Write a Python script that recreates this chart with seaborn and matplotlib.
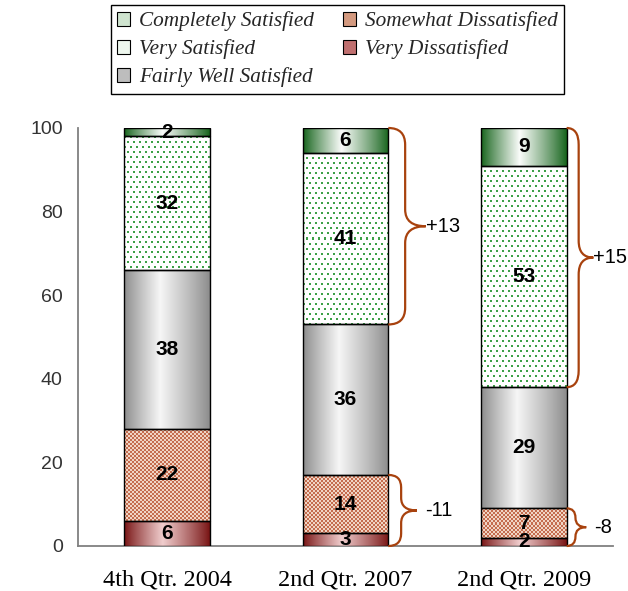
import numpy as np
import pandas as pd
import matplotlib
matplotlib.use("Agg")
import matplotlib.pyplot as plt
import seaborn as sns
from matplotlib.path import Path
from matplotlib.patches import PathPatch, Patch
from matplotlib.font_manager import FontProperties

# ---------------- data ----------------
periods = ["4th Qtr. 2004", "2nd Qtr. 2007", "2nd Qtr. 2009"]
very_dissatisfied = [6, 3, 2]
somewhat_dissatisfied = [22, 14, 7]
fairly_well_satisfied = [38, 36, 29]
very_satisfied = [32, 41, 53]
completely_satisfied = [2, 6, 9]
legend_labels = ["Completely Satisfied", "Very Satisfied", "Fairly Well Satisfied",
                 "Somewhat Dissatisfied", "Very Dissatisfied"]
y_ticks = [0, 20, 40, 60, 80, 100]

# ---------------- style ----------------
sns.set_style("white")
plt.rcParams["font.family"] = ["Liberation Sans", "DejaVu Sans"]

W, H = 628, 591
fig = plt.figure(figsize=(W / 100, H / 100), dpi=100)
ax_l, ax_r, ax_t, ax_b = 78, 613, 128, 546
ax = fig.add_axes([ax_l / W, 1 - ax_b / H, (ax_r - ax_l) / W, (ax_b - ax_t) / H])

# bottom-up stacking order
layers = [
    ("Very Dissatisfied", very_dissatisfied),
    ("Somewhat Dissatisfied", somewhat_dissatisfied),
    ("Fairly Well Satisfied", fairly_well_satisfied),
    ("Very Satisfied", very_satisfied),
    ("Completely Satisfied", completely_satisfied),
]

px_per_x = (ax_r - ax_l) / 3.0
px_per_y = (ax_b - ax_t) / 100.0


def grad_tex(wp, hp, edge, center, peak=0.45, gamma=0.9):
    x = np.linspace(0, 1, wp)
    t = np.where(x < peak, x / peak, (1 - x) / (1 - peak))
    t = np.clip(t, 0, 1) ** gamma
    edge = np.array(edge) / 255.0
    center = np.array(center) / 255.0
    col = edge[None, :] + (center - edge)[None, :] * t[:, None]
    return np.tile(col[None, :, :], (hp, 1, 1))


def dots_tex(wp, hp):
    img = np.ones((hp, wp, 3))
    yy, xx = np.mgrid[0:hp, 0:wp]
    row = yy // 5
    mask = ((yy % 5) < 2) & (((xx + (row % 2) * 3) % 6) < 2)
    img[mask] = np.array([60, 160, 70]) / 255.0
    return img


def checker_tex(wp, hp):
    yy, xx = np.mgrid[0:hp, 0:wp]
    m = ((yy // 2) + (xx // 2)) % 2 == 0
    img = np.empty((hp, wp, 3))
    img[m] = np.array([196, 108, 78]) / 255.0
    img[~m] = np.array([240, 212, 196]) / 255.0
    return img


def texture(name, wp, hp):
    if name == "Completely Satisfied":
        return grad_tex(wp, hp, (22, 100, 28), (250, 252, 250)), "bilinear"
    if name == "Very Satisfied":
        return dots_tex(wp, hp), "nearest"
    if name == "Fairly Well Satisfied":
        return grad_tex(wp, hp, (140, 140, 140), (246, 246, 246), peak=0.42), "bilinear"
    if name == "Somewhat Dissatisfied":
        return checker_tex(wp, hp), "nearest"
    return grad_tex(wp, hp, (120, 20, 20), (240, 205, 205)), "bilinear"


bottoms = np.zeros(len(periods))
tops = {}
for name, vals in layers:
    n_before = len(ax.patches)
    df = pd.DataFrame({"period": periods, "value": vals})
    sns.barplot(data=df, x="period", y="value", order=periods, width=0.48,
                color="white", edgecolor="black", linewidth=1.0, ax=ax, zorder=3)
    new = ax.patches[n_before:]
    for i, p in enumerate(new):
        p.set_y(bottoms[i])
        x0, w = p.get_x(), p.get_width()
        y0, h = bottoms[i], vals[i]
        wp = max(2, int(round(w * px_per_x)))
        hp = max(2, int(round(h * px_per_y)))
        img, interp = texture(name, wp, hp)
        im = ax.imshow(img, extent=[x0, x0 + w, y0, y0 + h], aspect="auto",
                       interpolation=interp, zorder=2, origin="upper")
        im.set_clip_path(p)
        p.set_facecolor("none")
        ax.text(i, y0 + h / 2, str(vals[i]), ha="center", va="center",
                fontsize=15, fontweight="bold", color="black", zorder=5)
    tops[name] = bottoms + np.array(vals)
    bottoms = bottoms + np.array(vals)

ax.set_xlim(-0.5, 2.5)
ax.set_ylim(0, 100)
ax.set_yticks(y_ticks)
ax.set_yticklabels([str(t) for t in y_ticks], fontsize=14, color="#333333")
ax.set_xticks(range(len(periods)))
ax.set_xticklabels(periods, fontsize=17.5, family="Liberation Serif", color="black")
ax.tick_params(axis="x", length=0, pad=17)
ax.tick_params(axis="y", length=0, pad=11)
ax.set_xlabel("")
ax.set_ylabel("")
for s in ["top", "right"]:
    ax.spines[s].set_visible(False)
for s in ["left", "bottom"]:
    ax.spines[s].set_color("#808080")
    ax.spines[s].set_linewidth(1.3)
ax.spines["bottom"].set_zorder(1)

# ---------------- braces ----------------
brace_color = "#A8420E"
bar_half = 0.24
upper_w = {1: 0.21, 2: 0.15}
lower_w = {1: 0.16, 2: 0.11}
label_gap_upper = 0
label_gap_lower = 6


def brace(x0, y0, y1, w, r):
    ym = (y0 + y1) / 2
    xm = x0 + w * 0.45
    xt = x0 + w
    verts = [(x0, y1), (xm, y1), (xm, y1 - r), (xm, ym + r), (xm, ym), (xt, ym),
             (xm, ym), (xm, ym - r), (xm, y0 + r), (xm, y0), (x0, y0)]
    codes = [Path.MOVETO, Path.CURVE3, Path.CURVE3, Path.LINETO, Path.CURVE3, Path.CURVE3,
             Path.CURVE3, Path.CURVE3, Path.LINETO, Path.CURVE3, Path.CURVE3]
    ax.add_patch(PathPatch(Path(verts, codes), facecolor="none", edgecolor=brace_color,
                           linewidth=1.6, zorder=4, clip_on=False))
    return xt, ym


satisfied_top = np.array(very_satisfied) + np.array(completely_satisfied)
dissat_total = np.array(very_dissatisfied) + np.array(somewhat_dissatisfied)
for i in range(1, len(periods)):
    x0 = i + bar_half
    # upper brace spanning Very + Completely Satisfied
    y0 = tops["Fairly Well Satisfied"][i]
    xt, ym = brace(x0, y0, 100, upper_w[i], 4)
    d = int(satisfied_top[i] - satisfied_top[i - 1])
    ax.annotate(f"{d:+d}", (xt, ym), xytext=(label_gap_upper, 0), textcoords="offset points",
                ha="left", va="center", fontsize=14.5, color="black", annotation_clip=False)
    # lower brace spanning dissatisfied
    y1 = tops["Somewhat Dissatisfied"][i]
    xt, ym = brace(x0, 0, y1, lower_w[i], min(3, y1 / 4))
    d = int(dissat_total[i] - dissat_total[i - 1])
    ax.annotate(f"{d:+d}", (xt, ym), xytext=(label_gap_lower, 0), textcoords="offset points",
                ha="left", va="center", fontsize=14.5, color="black", annotation_clip=False)

# ---------------- legend ----------------
handle_faces = {
    "Completely Satisfied": "#cfe4cf",
    "Very Satisfied": "#eef7ee",
    "Fairly Well Satisfied": "#bdbdbd",
    "Somewhat Dissatisfied": "#d49a80",
    "Very Dissatisfied": "#c07070",
}
handles = [Patch(facecolor=handle_faces[l], edgecolor="black", linewidth=0.8) for l in legend_labels]
leg = fig.legend(handles, legend_labels, ncol=2, loc="upper center",
                 bbox_to_anchor=(337.5 / W, 1 - 5 / H),
                 prop=FontProperties(family="Liberation Serif", style="italic", size=15.3),
                 frameon=True, fancybox=False, edgecolor="black", framealpha=1,
                 handlelength=0.6, handleheight=0.6, handletextpad=0.45,
                 labelspacing=0.38, columnspacing=1.35, borderpad=0.3, borderaxespad=0)
leg.get_frame().set_linewidth(1.0)

fig.savefig("out.png", dpi=100)
